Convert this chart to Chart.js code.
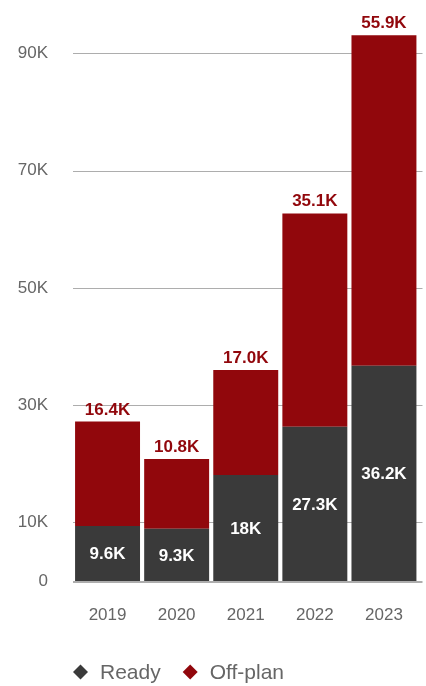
<!DOCTYPE html>
<html>
<head>
<meta charset="utf-8">
<script src="https://cdn.jsdelivr.net/npm/chart.js@4/dist/chart.umd.min.js"></script>
<style>
  html, body { margin: 0; padding: 0; background: #ffffff; }
  #wrap { position: relative; width: 426px; height: 686px; }
</style>
</head>
<body>
<div id="wrap"><canvas id="c" width="426" height="686"></canvas></div>
<script>
// ---- data (thousands) ----
const categories = ['2019', '2020', '2021', '2022', '2023'];
const readyValues = [9.4, 8.9, 18.1, 26.3, 36.7];
const offPlanValues = [17.8, 11.9, 17.9, 36.4, 56.4];
const readyLabels = ['9.6K', '9.3K', '18K', '27.3K', '36.2K'];
const offPlanLabels = ['16.4K', '10.8K', '17.0K', '35.1K', '55.9K'];
const yTickValues = [0, 10, 30, 50, 70, 90];
const yTickLabels = ['0', '10K', '30K', '50K', '70K', '90K'];
const seriesNames = ['Ready', 'Off-plan'];

const READY_COLOR = '#3a3a3a';
const OFFPLAN_COLOR = '#91070c';
const TEXT_GREY = '#666666';
const GRID_GREY = '#adadad';
const FONT = '"Liberation Sans", Arial, sans-serif';

// gridlines drawn from the y scale, extended a few px past the plot's right edge
const gridPlugin = {
  id: 'extendedGrid',
  beforeDatasetsDraw(chart) {
    const ctx = chart.ctx;
    const ys = chart.scales.y;
    const area = chart.chartArea;
    ctx.save();
    ctx.strokeStyle = GRID_GREY;
    ctx.lineWidth = 1;
    ys.ticks.forEach(t => {
      if (t.value === 0) return;
      const y = Math.round(ys.getPixelForValue(t.value)) + 0.5;
      ctx.beginPath();
      ctx.moveTo(area.left, y);
      ctx.lineTo(area.right + 4, y);
      ctx.stroke();
    });
    ctx.restore();
  },
  afterDatasetsDraw(chart) {
    const ctx = chart.ctx;
    const ys = chart.scales.y;
    const area = chart.chartArea;
    const y = ys.getPixelForValue(0);
    ctx.save();
    ctx.strokeStyle = GRID_GREY;
    ctx.lineWidth = 2;
    ctx.beginPath();
    ctx.moveTo(area.left, Math.round(y) + 1);
    ctx.lineTo(area.right + 4, Math.round(y) + 1);
    ctx.stroke();
    ctx.restore();
  }
};

const valueLabelPlugin = {
  id: 'valueLabels',
  afterDatasetsDraw(chart) {
    const ctx = chart.ctx;
    ctx.save();
    ctx.textAlign = 'center';
    ctx.textBaseline = 'alphabetic';
    ctx.font = '600 17px ' + FONT;
    const m0 = chart.getDatasetMeta(0);
    const m1 = chart.getDatasetMeta(1);
    m0.data.forEach((bar, i) => {
      const mid = (bar.y + bar.base) / 2;
      ctx.fillStyle = '#ffffff';
      ctx.fillText(readyLabels[i], bar.x, mid + 6);
    });
    m1.data.forEach((bar, i) => {
      ctx.fillStyle = OFFPLAN_COLOR;
      ctx.fillText(offPlanLabels[i], bar.x, bar.y - 7);
    });
    ctx.restore();
  }
};

const legendPlugin = {
  id: 'customLegend',
  afterDraw(chart) {
    const ctx = chart.ctx;
    ctx.save();
    ctx.font = '21px ' + FONT;
    ctx.textBaseline = 'middle';
    ctx.textAlign = 'left';
    const y = 672;
    let x = 73;
    chart.data.datasets.forEach((ds, i) => {
      const r = 7.5;
      const cx = x + r;
      ctx.fillStyle = ds.backgroundColor;
      ctx.beginPath();
      ctx.moveTo(cx - r, y);
      ctx.lineTo(cx, y - r);
      ctx.lineTo(cx + r, y);
      ctx.lineTo(cx, y + r);
      ctx.closePath();
      ctx.fill();
      const tx = x + 27;
      ctx.fillStyle = TEXT_GREY;
      ctx.fillText(ds.label, tx, y + 1);
      x = tx + ctx.measureText(ds.label).width + 22;
    });
    ctx.restore();
  }
};

new Chart(document.getElementById('c'), {
  type: 'bar',
  data: {
    labels: categories,
    datasets: [
      { label: seriesNames[0], data: readyValues, backgroundColor: READY_COLOR, borderWidth: 0 },
      { label: seriesNames[1], data: offPlanValues, backgroundColor: OFFPLAN_COLOR, borderWidth: 0 }
    ]
  },
  options: {
    responsive: false,
    animation: false,
    devicePixelRatio: 1,
    layout: { padding: { top: 24, right: 7.5, bottom: 61, left: 0 } },
    datasets: { bar: { barPercentage: 0.94, categoryPercentage: 1 } },
    plugins: {
      legend: { display: false },
      tooltip: { enabled: false }
    },
    scales: {
      x: {
        stacked: true,
        grid: { display: false, drawTicks: false },
        border: { display: false },
        ticks: { color: TEXT_GREY, font: { family: FONT, size: 17 }, padding: 24, maxRotation: 0 },
        afterFit(scale) { scale.height = 44; scale.paddingLeft = 0; scale.paddingRight = 0; }
      },
      y: {
        stacked: true,
        min: 0,
        max: 95,
        border: { display: false },
        grid: { display: false, drawTicks: false },
        afterBuildTicks(scale) {
          scale.ticks = yTickValues.map(v => ({ value: v }));
        },
        ticks: {
          color: TEXT_GREY,
          font: { family: FONT, size: 17 },
          padding: 25,
          callback(value) {
            const i = yTickValues.indexOf(value);
            return i >= 0 ? yTickLabels[i] : '';
          }
        },
        afterFit(scale) { scale.width = 73; scale.paddingTop = 0; scale.paddingBottom = 0; }
      }
    }
  },
  plugins: [gridPlugin, valueLabelPlugin, legendPlugin]
});
</script>
</body>
</html>
